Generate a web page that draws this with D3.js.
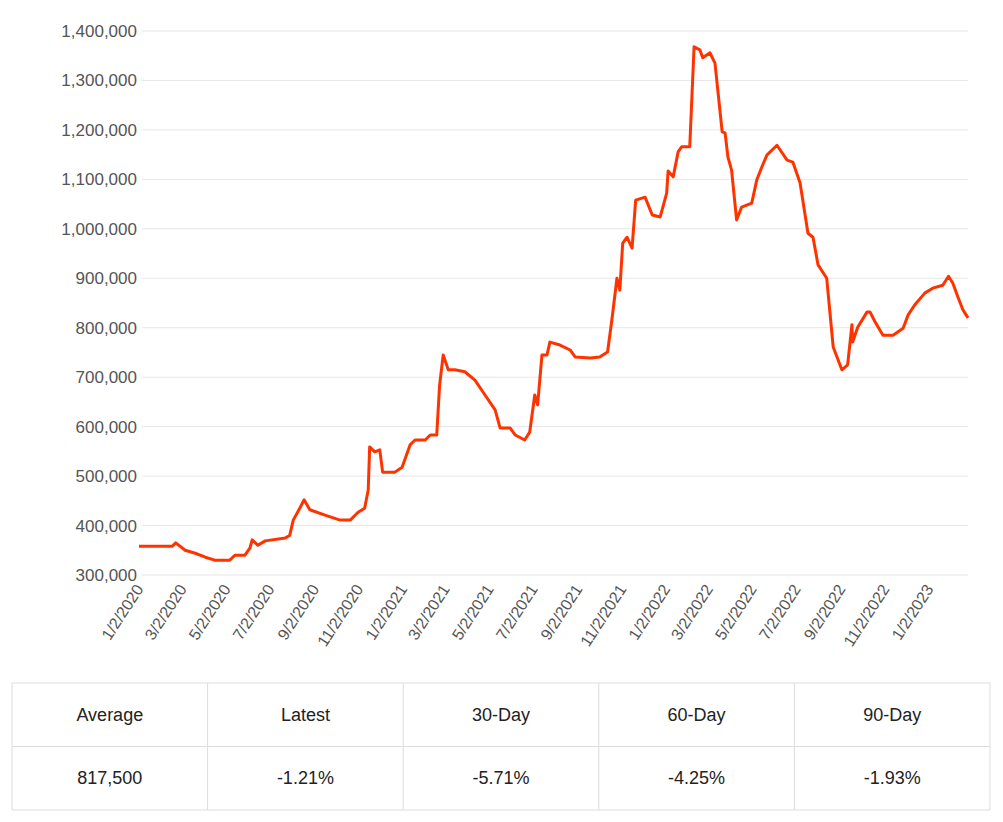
<!DOCTYPE html><html><head><meta charset="utf-8">
<script src="https://cdn.jsdelivr.net/npm/d3@7"></script>
<style>body{margin:0;background:#fff;font-family:"Liberation Sans",Arial,sans-serif}</style></head><body>
<svg id="c" width="1003" height="822"></svg>
<script>
const startDate = "2020-01-02";
const dayOffsets = [0,46,51,64,78,92,105,126,133,147,154,157,165,175,203,209,214,223,229,237,258,279,293,304,313,318,320,327,334,338,355,365,376,383,397,404,413,417,422,429,438,452,466,480,494,501,515,522,535,542,549,553,559,566,570,584,598,605,626,639,650,656,663,667,671,677,684,689,702,712,723,732,734,741,748,753,764,770,778,782,792,799,809,813,817,822,829,836,850,857,864,871,885,899,907,917,928,935,942,954,963,975,983,989,990,997,1010,1014,1021,1032,1046,1060,1067,1076,1090,1101,1115,1123,1129,1136,1143,1150];
const values = [358,358,365,350,344,336,330,330,340,340,355,371,360,369,375,380,411,435,452,432,421,411,411,427,435,472,559,549,553,508,508,518,563,573,573,583,583,684,745,715,715,711,694,664,634,597,597,583,573,589,664,644,745,745,771,765,755,741,739,741,751,816,900,876,971,983,961,1058,1064,1028,1024,1072,1117,1105,1156,1166,1166,1368,1362,1346,1356,1335,1196,1194,1145,1119,1018,1044,1052,1099,1125,1149,1169,1139,1135,1093,991,983,927,900,761,715,725,806,771,801,832,832,812,785,785,799,826,846,870,880,886,904,890,862,836,820].map(v=>v*1000);
const yTicks = [300000,400000,500000,600000,700000,800000,900000,1000000,1100000,1200000,1300000,1400000];
const xTickLabels = ["1/2/2020","3/2/2020","5/2/2020","7/2/2020","9/2/2020","11/2/2020","1/2/2021","3/2/2021","5/2/2021","7/2/2021","9/2/2021","11/2/2021","1/2/2022","3/2/2022","5/2/2022","7/2/2022","9/2/2022","11/2/2022","1/2/2023"];
const tableHeaders = ["Average","Latest","30-Day","60-Day","90-Day"];
const tableValues = ["817,500","-1.21%","-5.71%","-4.25%","-1.93%"];

const parse = d3.timeParse("%m/%d/%Y");
const t0 = d3.timeParse("%Y-%m-%d")(startDate);
const data = dayOffsets.map((d,i)=>({date:d3.timeDay.offset(t0,d), v:values[i]}));
const svg = d3.select("#c");
const L=136,R=968,T=31,B=575;
const x = d3.scaleTime().domain([t0, d3.timeDay.offset(t0,1150)]).range([L+3,R]);
const y = d3.scaleLinear().domain([300000,1400000]).range([B,T]);
const fmt = d3.format(",");
const g = svg.append("g");
g.selectAll("line.g").data(yTicks).join("line").attr("x1",L+6).attr("x2",R).attr("y1",d=>y(d)).attr("y2",d=>y(d)).attr("stroke","#e6e6e6");
g.selectAll("text.y").data(yTicks).join("text").attr("x",L+1).attr("y",d=>y(d)+6).attr("text-anchor","end").attr("font-size",17).attr("fill","#555").text(d=>fmt(d));
g.selectAll("text.x").data(xTickLabels).join("text")
 .attr("transform",d=>`translate(${x(parse(d))+5},${B+14}) rotate(-57)`)
 .attr("text-anchor","end").attr("font-size",16).attr("fill","#555").text(d=>d);
g.append("path").datum(data).attr("fill","none").attr("stroke","#ff3300").attr("stroke-width",3).attr("stroke-linejoin","round")
 .attr("d",d3.line().x(d=>x(d.date)).y(d=>y(d.v)));
// table
const tx=d3.scaleBand().domain(d3.range(5)).range([12,990]);
const tt=683,rh=63.5;
const tg=svg.append("g");
tg.append("rect").attr("x",12).attr("y",tt).attr("width",978).attr("height",rh*2).attr("fill","none").attr("stroke","#ddd");
tg.append("line").attr("x1",12).attr("x2",990).attr("y1",tt+rh).attr("y2",tt+rh).attr("stroke","#ddd");
tg.selectAll("line.c").data(d3.range(1,5)).join("line").attr("x1",d=>tx(d)).attr("x2",d=>tx(d)).attr("y1",tt).attr("y2",tt+rh*2).attr("stroke","#ddd");
[tableHeaders,tableValues].forEach((row,r)=>{
 tg.selectAll(null).data(row).join("text").attr("x",(d,i)=>tx(i)+tx.bandwidth()/2).attr("y",tt+rh*r+rh/2+6)
  .attr("text-anchor","middle").attr("font-size",18).attr("fill","#222").text(d=>d);
});
</script></body></html>
